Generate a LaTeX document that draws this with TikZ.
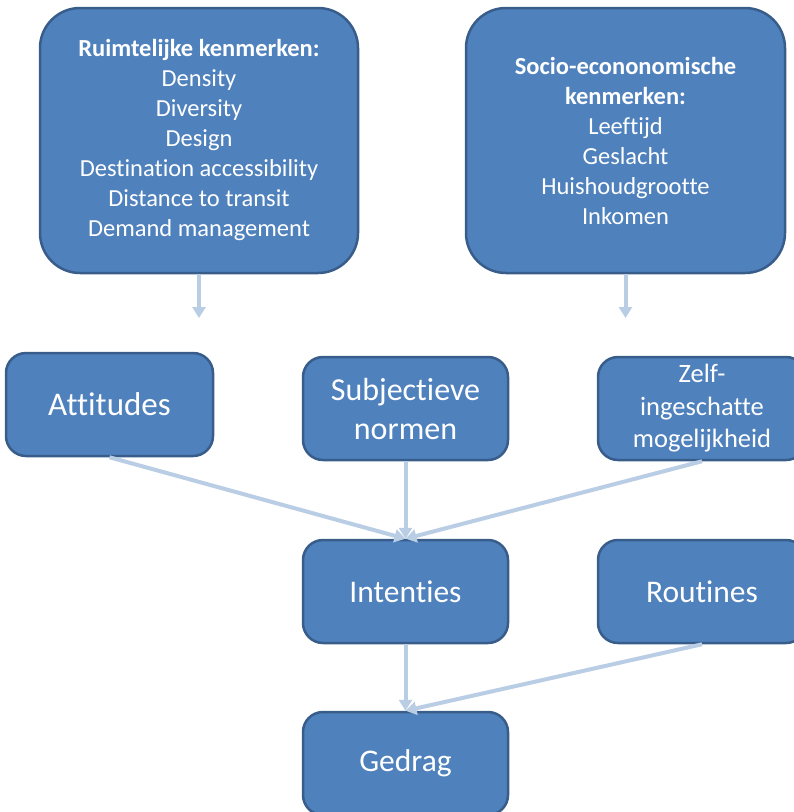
\documentclass[tikz,border=0pt]{standalone}
\usepackage{fontspec}
\setmainfont{Carlito}[Ligatures=NoCommon]
\usetikzlibrary{arrows.meta}
\definecolor{boxfill}{HTML}{4F81BD}
\definecolor{boxedge}{HTML}{385D8A}
\definecolor{arrowblue}{HTML}{B9CDE5}

\begin{document}
\begin{tikzpicture}[x=1pt,y=-1pt,
  box/.style={draw=boxedge, line width=2.5pt, fill=boxfill, text=white,
    rounded corners=20pt, align=center, inner sep=0pt},
  bigbox/.style={box, rounded corners=40pt, minimum height=265pt,
    font=\fontsize{24.5}{30}\selectfont},
  midbox/.style={box, minimum height=103pt},
  link/.style={draw=arrowblue, line width=4pt,
    -{Triangle[width=13pt,length=11pt]}}]
\useasboundingbox (0,0) rectangle (794,812);
\clip (0,0) rectangle (794,812);

% top row: the two groups of background factors
\node[bigbox, minimum width=318pt] (ruimte) at (199,140.5)
  {\textbf{Ruimtelijke kenmerken:}\\Density\\Diversity\\Design\\
   Destination accessibility\\Distance to transit\\Demand management};
\node[bigbox, minimum width=319pt] (socio) at (625.5,140.5)
  {\textbf{Socio-econonomische}\\\textbf{kenmerken:}\\Leeftijd\\Geslacht\\
   Huishoudgrootte\\Inkomen};
\coordinate (ruimteend) at (199,318);
\coordinate (socioend) at (625.5,318);

% middle row: the three determinants of intention
\node[midbox, minimum width=207pt, font=\fontsize{33}{40}\selectfont]
  (att) at (109.5,404.5) {Attitudes};
\node[midbox, minimum width=205pt, font=\fontsize{32}{39}\selectfont]
  (subj) at (405.5,408.5) {Subjectieve\\normen};
\node[midbox, minimum width=208pt, font=\fontsize{26.5}{32.5}\selectfont]
  (zelf) at (702,408.5) {Zelf-\\ingeschatte\\mogelijkheid};

% lower rows
\node[midbox, minimum width=205pt, font=\fontsize{31.5}{38}\selectfont]
  (int) at (405.5,591.5) {Intenties};
\node[midbox, minimum width=208pt, font=\fontsize{31.5}{38}\selectfont]
  (rout) at (702,591.5) {Routines};
\node[midbox, minimum width=205pt, font=\fontsize{31.5}{38}\selectfont]
  (ged) at (405.5,763.5) {Gedrag};

% connectors
\draw[link] (ruimte.south) -- (ruimteend);
\draw[link] (socio.south) -- (socioend);
\draw[link] (att.south) -- (int.north);
\draw[link] (subj.south) -- (int.north);
\draw[link] (zelf.south) -- (int.north);
\draw[link] (int.south) -- (ged.north);
\draw[link] (rout.south) -- (ged.north);
\end{tikzpicture}
\end{document}
